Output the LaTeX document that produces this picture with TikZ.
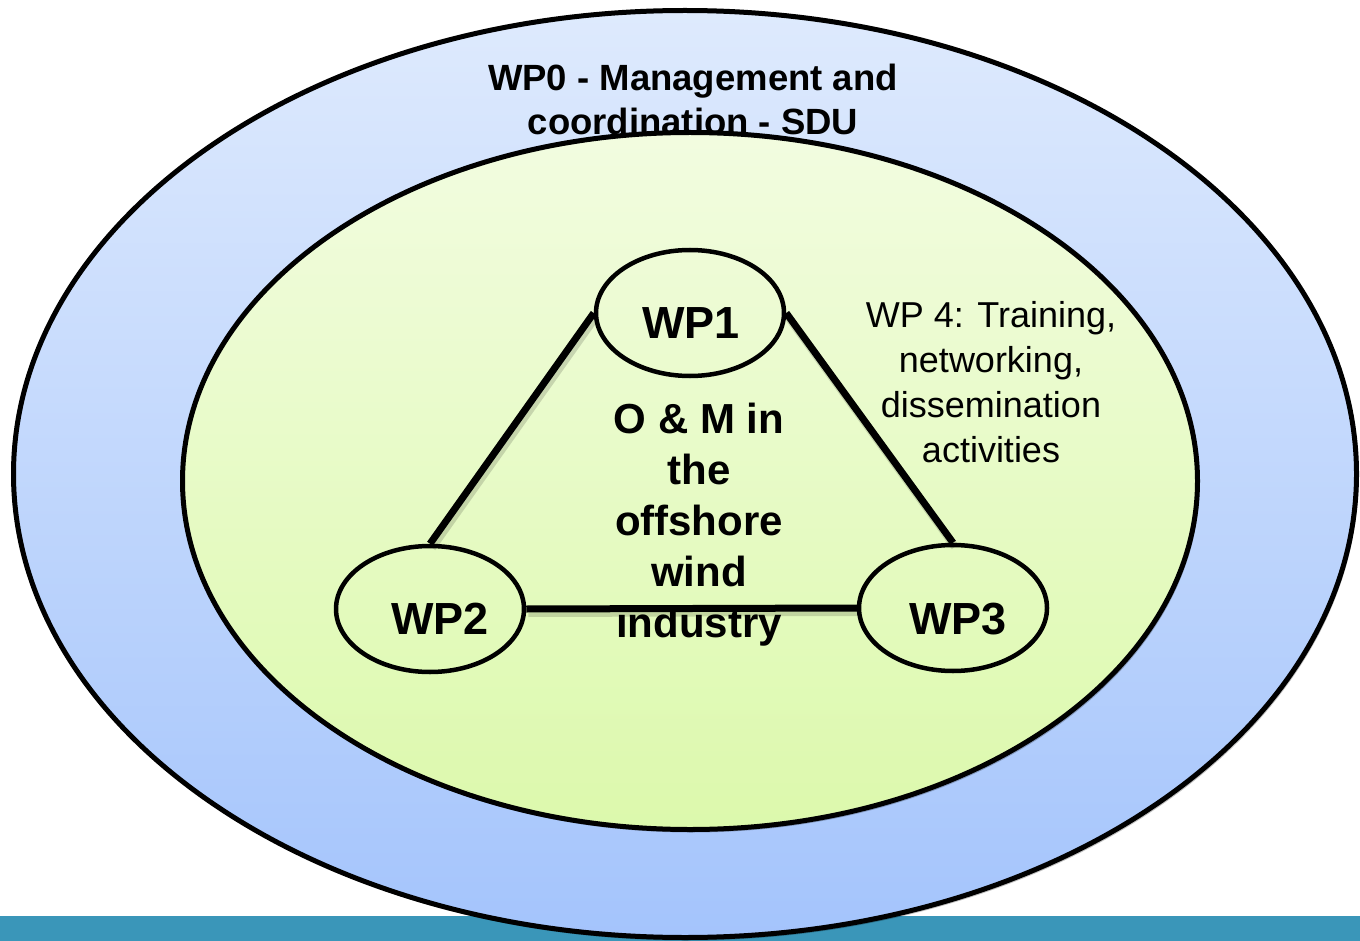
\documentclass[tikz,border=0pt]{standalone}
\usepackage{fontspec}
\setmainfont{Liberation Sans}
\usetikzlibrary{shapes.geometric,shadows}
\definecolor{teal}{RGB}{58,150,185}
\definecolor{outertop}{RGB}{222,234,253}
\definecolor{outerbot}{RGB}{164,196,252}
\definecolor{innertop}{RGB}{242,252,224}
\definecolor{innerbot}{RGB}{220,249,172}
\tikzset{
  oval/.style={ellipse, draw=black, line width=5pt, inner sep=0pt},
  bigoval/.style={oval, drop shadow={shadow xshift=2pt, shadow yshift=-3pt, opacity=0.25, fill=black}},
  wpoval/.style={oval, line width=4.5pt, minimum width=188pt, minimum height=126pt},
  link/.style={line width=7pt, draw=black,
    preaction={draw=black, opacity=0.15, line width=8pt, transform canvas={shift={(2pt,-4pt)}}}},
  wplabel/.style={font=\bfseries\fontsize{45}{50}\selectfont, inner sep=0pt},
  centertext/.style={font=\bfseries\fontsize{42}{51}\selectfont, align=center, inner sep=0pt},
  toptext/.style={font=\bfseries\fontsize{36.5}{44}\selectfont, align=center, inner sep=0pt},
  sidetext/.style={font=\fontsize{36}{45}\selectfont, align=center, inner sep=0pt}
}
\begin{document}
\begin{tikzpicture}[x=1pt,y=-1pt]
\useasboundingbox (0,0) rectangle (1360,941);
\fill[white] (0,0) rectangle (1360,941);
\fill[teal] (0,916) rectangle (1360,941);
\node[bigoval, top color=outertop, bottom color=outerbot, minimum width=1343pt, minimum height=927pt] (outer) at (685,474) {};
\node[toptext] (wp0) at (693,99) {WP0 - Management and\\coordination - SDU};
\node[bigoval, top color=innertop, bottom color=innerbot, minimum width=1015pt, minimum height=697pt] (inner) at (690,481) {};
\node[wpoval] (wp1) at (690,313) {};
\node[wpoval] (wp2) at (430,609) {};
\node[wpoval] (wp3) at (953,608) {};
\draw[link] (wp1.west) -- (wp2.north);
\draw[link] (wp1.east) -- (wp3.north);
\draw[link] (wp2.east) -- (wp3.west);
\node[wplabel] (t1) at (691,323) {WP1};
\node[wplabel] (t2) at (440,619) {WP2};
\node[wplabel] (t3) at (958,619) {WP3};
\node[centertext] (om) at (699,525) {O \& M in\\the\\offshore\\wind\\industry};
\node[sidetext] (wp4) at (991,382) {WP 4: Training,\\networking,\\dissemination\\activities};
\end{tikzpicture}
\end{document}
